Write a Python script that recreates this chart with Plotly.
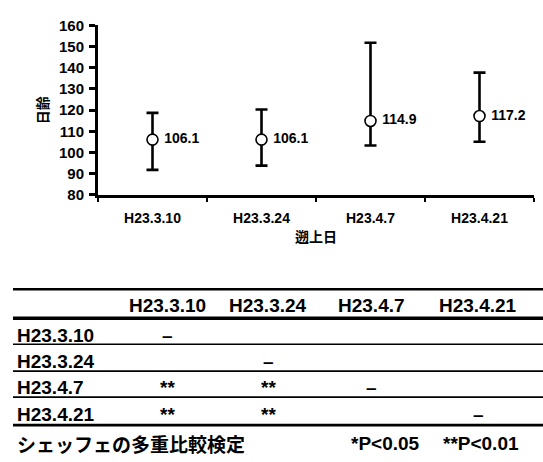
import plotly.graph_objects as go

# ---- data ----
dates = ["H23.3.10", "H23.3.24", "H23.4.7", "H23.4.21"]
mean_age = [106.1, 106.1, 114.9, 117.2]
err_plus = [12.6, 14.2, 36.9, 20.5]
err_minus = [14.3, 12.3, 11.6, 12.1]

table_cols = ["H23.3.10", "H23.3.24", "H23.4.7", "H23.4.21"]
table_rows = ["H23.3.10", "H23.3.24", "H23.4.7", "H23.4.21"]
table_cells = [
    ["–", "", "", ""],
    ["", "–", "", ""],
    ["**", "**", "–", ""],
    ["**", "**", "", "–"],
]
footnote_left = "シェッフェの多重比較検定"
footnote_p05 = "*P<0.05"
footnote_p01 = "**P<0.01"

y_title = "日齢"
x_title = "遡上日"

# ---- layout helpers ----
W, H = 543, 462
FONT = "Liberation Sans, Arial, Noto Sans CJK JP"


def px(x):
    return x / W


def py(y):
    return 1 - y / H


fig = go.Figure()
fig.add_trace(go.Scatter(
    x=dates, y=mean_age,
    mode="markers+text",
    text=[f" {v:.1f}" for v in mean_age],
    textposition="middle right",
    textfont=dict(family=FONT, size=14, color="black", weight="bold"),
    marker=dict(symbol="circle", size=11, color="white",
                line=dict(color="black", width=1.6)),
    error_y=dict(type="data", symmetric=False, array=err_plus,
                 arrayminus=err_minus, color="black", thickness=2.6, width=6),
    showlegend=False,
    cliponaxis=False,
))

fig.update_layout(
    width=W, height=H,
    margin=dict(l=0, r=0, t=0, b=0),
    paper_bgcolor="white", plot_bgcolor="white",
    font=dict(family=FONT, color="black"),
    xaxis=dict(
        domain=[px(98), px(534)],
        range=[-0.5, 3.5],
        type="category",
        showline=True, linecolor="black", linewidth=3,
        ticks="outside", tickson="boundaries", ticklen=4, tickwidth=2,
        tickcolor="black",
        showgrid=False, zeroline=False,
        ticklabelstandoff=8,
        tickfont=dict(family=FONT, size=14, weight="bold"),
        title=dict(text=x_title, font=dict(family="Noto Sans CJK JP", size=14, weight="bold"),
                   standoff=8),
    ),
    yaxis=dict(
        domain=[py(193), py(17)],
        range=[80, 160],
        dtick=10,
        showline=True, linecolor="black", linewidth=3,
        ticks="outside", ticklen=6, tickwidth=2.5, tickcolor="black",
        showgrid=False, zeroline=False,
        ticklabelstandoff=2,
        tickfont=dict(family=FONT, size=15, weight="bold"),
        title=dict(text=y_title, font=dict(family="Noto Sans CJK JP", size=14, weight="bold"),
                   standoff=8),
    ),
)

# ---- table ----
shapes = []
line_specs = [(291, 2.5), (321, 3.5), (348, 1.6), (376, 1.6), (403, 1.6), (432, 2.6)]
for yy, w in line_specs:
    shapes.append(dict(type="line", xref="paper", yref="paper",
                       x0=px(13), x1=1, y0=py(yy), y1=py(yy),
                       line=dict(color="black", width=w)))

annotations = []
col_x = [167, 268, 371, 478]
header_y = 308
row_y = [339, 366, 393, 421]
TFS = 19

for cx, name in zip(col_x, table_cols):
    annotations.append(dict(x=px(cx), y=py(header_y), xref="paper", yref="paper",
                            text=name, showarrow=False, xanchor="center", yanchor="middle",
                            font=dict(family=FONT, size=TFS, weight="bold")))
for ry, rname, cells in zip(row_y, table_rows, table_cells):
    annotations.append(dict(x=px(15), y=py(ry), xref="paper", yref="paper",
                            text=rname, showarrow=False, xanchor="left", yanchor="middle",
                            font=dict(family=FONT, size=TFS, weight="bold")))
    for cx, val in zip(col_x, cells):
        if val:
            annotations.append(dict(x=px(cx), y=py(ry), xref="paper", yref="paper",
                                    text=val, showarrow=False, xanchor="center",
                                    yanchor="middle",
                                    font=dict(family=FONT, size=TFS, weight="bold")))

annotations.append(dict(x=px(15), y=py(451), xref="paper", yref="paper",
                        text=footnote_left, showarrow=False, xanchor="left", yanchor="middle",
                        font=dict(family="Noto Sans CJK JP", size=19, weight="bold")))
annotations.append(dict(x=px(385), y=py(451), xref="paper", yref="paper",
                        text=footnote_p05, showarrow=False, xanchor="center", yanchor="middle",
                        font=dict(family=FONT, size=TFS, weight="bold")))
annotations.append(dict(x=px(481), y=py(451), xref="paper", yref="paper",
                        text=footnote_p01, showarrow=False, xanchor="center", yanchor="middle",
                        font=dict(family=FONT, size=TFS, weight="bold")))

fig.update_layout(shapes=shapes, annotations=annotations)

fig.write_html("out.html")
